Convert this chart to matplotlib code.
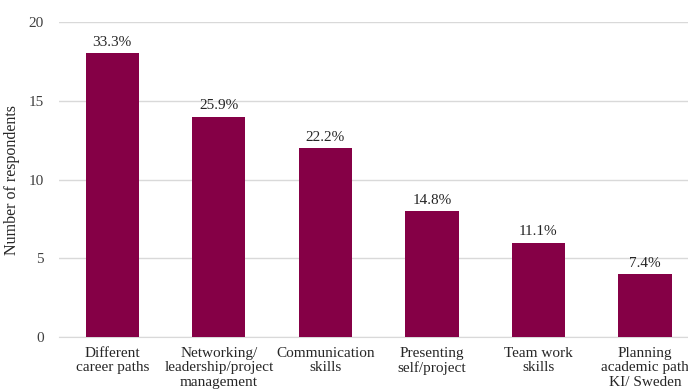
import matplotlib.pyplot as plt

categories = ["Different\ncareer paths", "Networking/\nleadership/project\nmanagement",
              "Communication\nskills", "Presenting\nself/project", "Team work\nskills",
              "Planning\nacademic path\nKI/ Sweden"]
counts = [18, 14, 12, 8, 6, 4]
percents = ["33.3%", "25.9%", "22.2%", "14.8%", "11.1%", "7.4%"]

plt.rcParams['font.family'] = ['Liberation Serif', 'DejaVu Serif']

fig = plt.figure(figsize=(6.88, 3.92), dpi=100)
ax = fig.add_axes([0.0858, 0.140, 0.929, 0.804])

x = range(len(categories))
bars = ax.bar(x, counts, width=0.5, color='#850046', zorder=3)
for b, p in zip(bars, percents):
    ax.annotate(p, (b.get_x() + b.get_width() / 2, b.get_height()),
                xytext=(0, 3), textcoords='offset points',
                ha='center', va='bottom', fontsize=11, color='#262626')

ax.set_xlim(-0.5, len(categories) - 0.5)
ax.set_ylim(0, 20)
ax.set_yticks([0, 5, 10, 15, 20])
ax.set_xticks(list(x))
ax.set_xticklabels(categories, fontsize=11, color='#262626', linespacing=1.15)
ax.tick_params(axis='y', labelsize=11, labelcolor='#404040', length=0, pad=11)
ax.tick_params(axis='x', length=0, pad=7)
ax.grid(axis='y', color='#d9d9d9', linewidth=1, zorder=0)
for s in ['top', 'right', 'left']:
    ax.spines[s].set_visible(False)
ax.spines['bottom'].set_color('#d9d9d9')
ax.set_ylabel("Number of respondents", fontsize=11.5, color='#262626', labelpad=6)

fig.savefig('out.png', dpi=100)
